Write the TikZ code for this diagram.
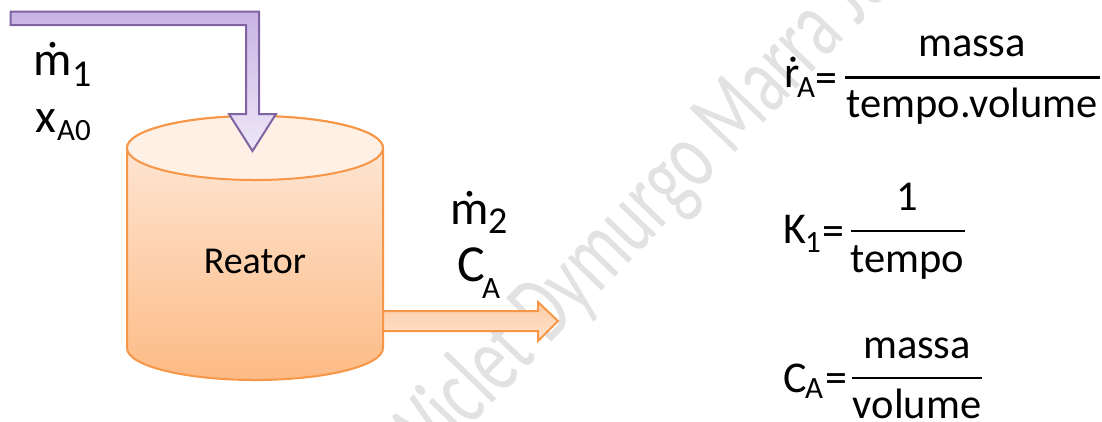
\documentclass[tikz,border=0pt]{standalone}
\usepackage{fontspec}
\setmainfont{Carlito}
\definecolor{orangeline}{HTML}{F79646}
\definecolor{purpleline}{HTML}{8064A2}
\definecolor{wm}{HTML}{E2E2E2}
\definecolor{vesseltop}{HTML}{FEEBDD}
\definecolor{vesselbot}{HTML}{FDBB85}
\definecolor{vessellid}{HTML}{FEF0E5}
\definecolor{pipetop}{HTML}{C8B3E4}
\definecolor{pipebot}{HTML}{EEE8F7}
\definecolor{outtop}{HTML}{FCCDA6}
\definecolor{outbot}{HTML}{FEE3CF}
\tikzset{
  x=1pt,y=-1pt,
  bigtext/.style={anchor=base west,inner sep=0pt,font=\fontsize{44}{44}\selectfont},
  streamtext/.style={anchor=base west,inner sep=0pt,font=\fontsize{48}{48}\selectfont},
  subtext/.style={anchor=base west,inner sep=0pt,font=\fontsize{31}{31}\selectfont},
  subbig/.style={anchor=base west,inner sep=0pt,font=\fontsize{38}{38}\selectfont},
  fractext/.style={anchor=base,inner sep=0pt,font=\fontsize{42.5}{42.5}\selectfont},
  fracbar/.style={line width=2.6pt,black},
  vessel/.style={draw=orangeline,line width=2pt},
  pipe/.style={draw=purpleline,line width=2pt,line join=miter},
  outpipe/.style={draw=orangeline,line width=2pt,line join=miter},
}
\begin{document}
\begin{tikzpicture}
\useasboundingbox (0,0) rectangle (1102,421);
% watermark
\begin{scope}
\clip (0,0) rectangle (1102,421);
\node[rotate=46,xscale=0.68,transform shape,anchor=base west,text=wm,inner sep=0pt,font=\fontsize{98}{98}\selectfont] (mark) at (418,481) {Wiclet Dymurgo Marra Júnior};
\end{scope}
% vessel
\path[vessel,top color=vesseltop,bottom color=vesselbot]
  (127,148) -- (127,348) arc[start angle=180,end angle=0,x radius=128,y radius=32]
  -- (383,148) arc[start angle=0,end angle=-180,x radius=128,y radius=32] -- cycle;
\path[vessel,fill=vessellid] (255,148) ellipse[x radius=128,y radius=32];
\node[anchor=base,inner sep=0pt,font=\fontsize{38}{38}\selectfont] (reator) at (255,273) {Reator};
% inlet
\path[pipe,top color=pipetop,bottom color=pipebot]
  (10.5,11.5) -- (259,11.5) -- (259,114) -- (276,114) -- (252.5,151) -- (229,114) -- (246,114) -- (246,25) -- (10.5,25) -- cycle;
% outlet
\path[outpipe,top color=outtop,bottom color=outbot]
  (383,311) -- (538,311) -- (538,302) -- (558,321) -- (538,341) -- (538,331) -- (383,331) -- cycle;
% stream labels
\node[streamtext] (m1) at (33,75) {ṁ};
\node[subbig] (m1s) at (72,86) {1};
\node[streamtext] (x1) at (35,132) {x};
\node[subtext] (x1s) at (57,140) {A0};
\node[streamtext] (m2) at (450,224) {ṁ};
\node[subbig] (m2s) at (488,233) {2};
\node[streamtext,font=\fontsize{52}{52}\selectfont] (c2) at (457,281) {C};
\node[subtext] (c2s) at (482,298) {A};
% equation r
\node[bigtext] (r) at (784,87) {ṙ};
\node[subtext] (rs) at (797,97) {A};
\node[bigtext] (re) at (815,92) {=};
\node[fractext] (rn) at (972,56) {massa};
\node[fractext] (rd) at (972,117) {tempo.volume};
\draw[fracbar] (845,77.5) -- (1100,77.5);
% equation K
\node[bigtext] (k) at (783,243) {K};
\node[subtext] (ks) at (805,252) {1};
\node[bigtext] (ke) at (822,245) {=};
\node[fractext] (kn) at (907,210) {1};
\node[fractext] (kd) at (907,272) {tempo};
\draw[fracbar] (851,231) -- (965,231);
% equation C
\node[bigtext] (c) at (783,392) {C};
\node[subtext] (cs) at (805,398) {A};
\node[bigtext] (ce) at (825,392) {=};
\node[fractext] (cn) at (917,358) {massa};
\node[fractext] (cd) at (917,418) {volume};
\draw[fracbar] (852,378) -- (982,378);
\end{tikzpicture}
\end{document}
